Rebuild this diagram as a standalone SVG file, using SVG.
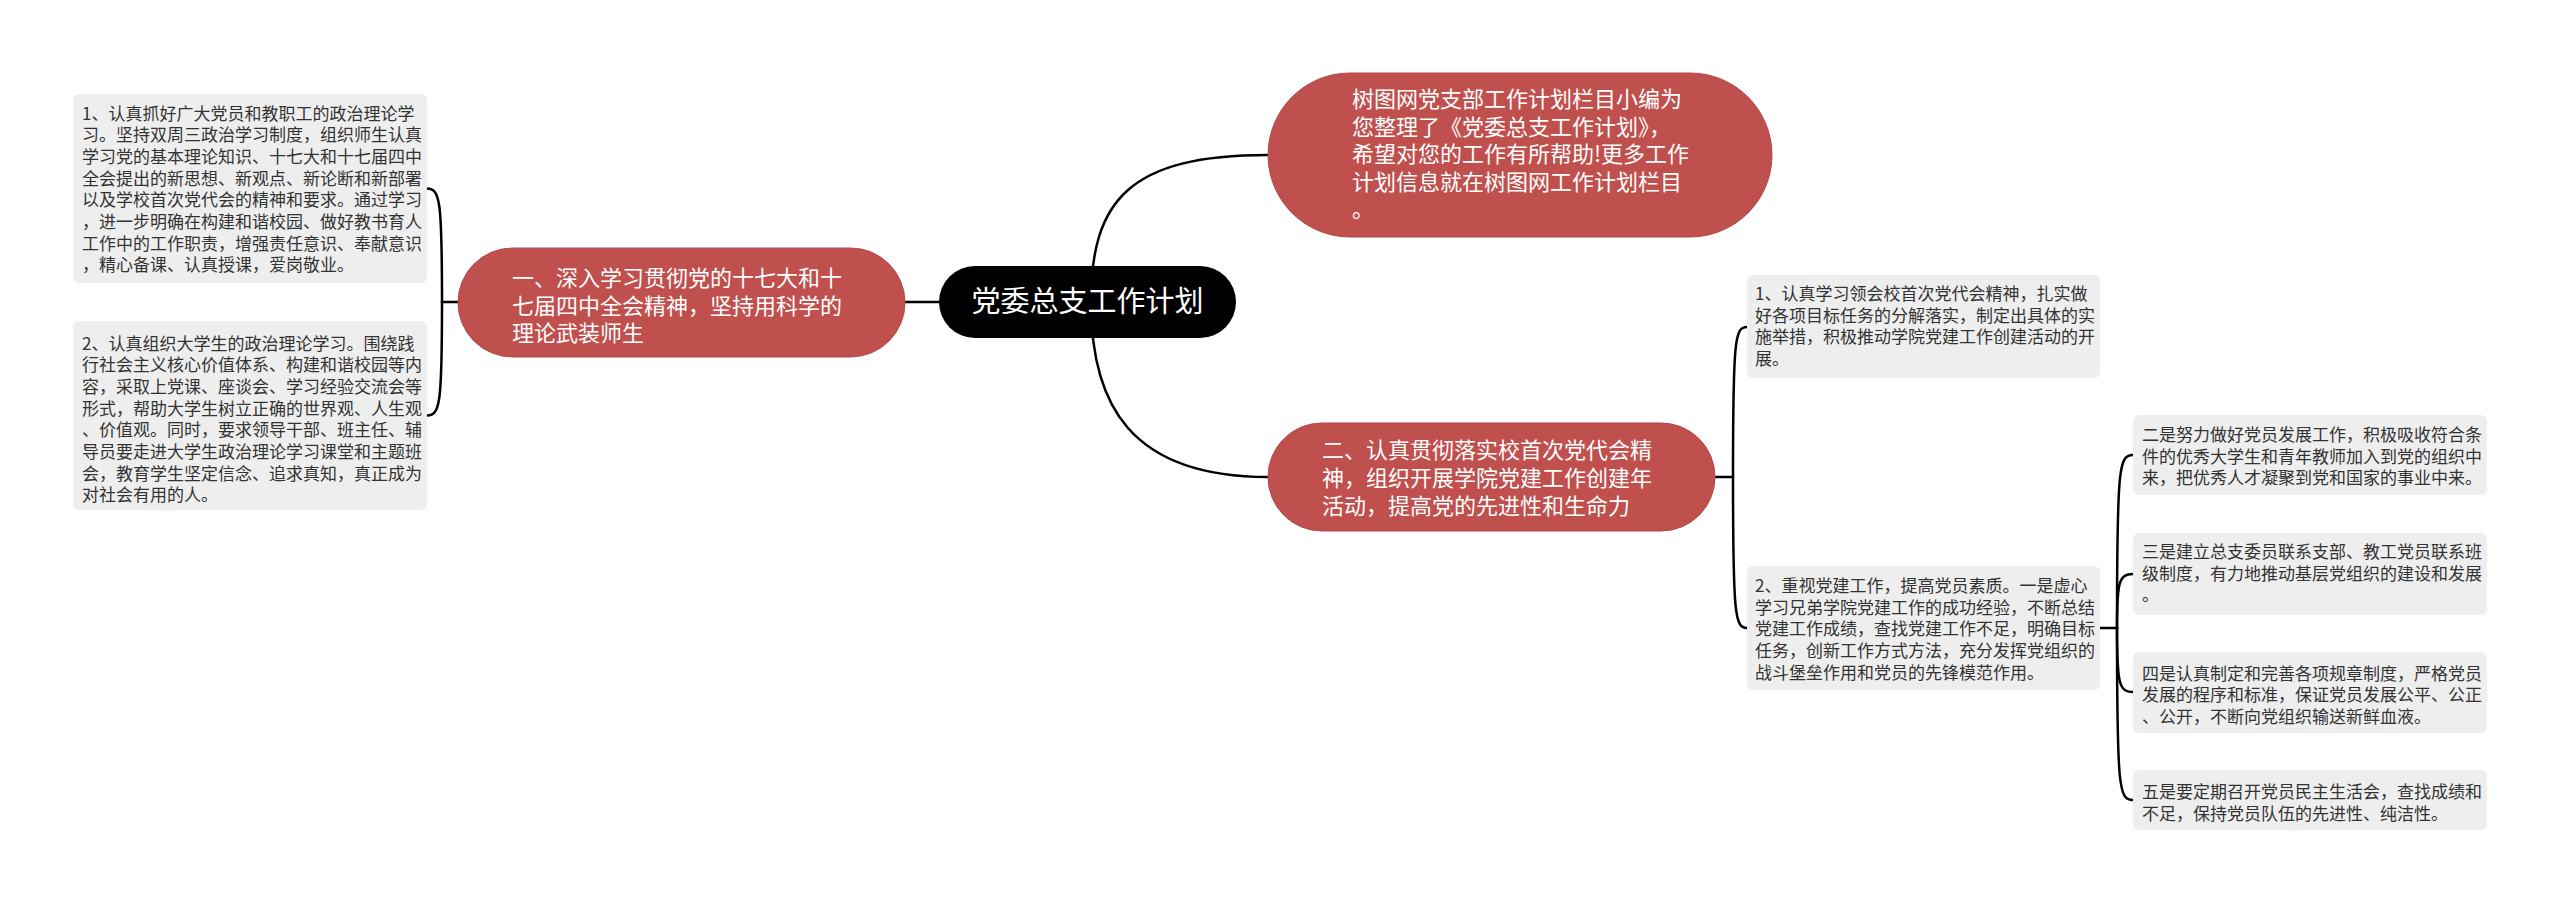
<svg xmlns="http://www.w3.org/2000/svg" width="2560" height="903" viewBox="0 0 2560 903">
<style>
.bg{fill:#ffffff}
.pill{fill:#C0504D;stroke:#B5474A;stroke-width:1}
.root{fill:#000000}
.box{fill:#EEEEEE}
.wt{fill:#ffffff;font-family:"Noto Sans CJK SC","Noto Sans",sans-serif;font-size:22px}
.rt{fill:#ffffff;font-family:"Noto Sans CJK SC","Noto Sans",sans-serif;font-size:29px}
.st{fill:#333333;font-family:"Noto Sans CJK SC","Noto Sans",sans-serif;font-size:17px}
.ln{fill:none;stroke:#000000;stroke-width:2.5;stroke-linecap:round}
</style>
<rect class="bg" x="0" y="0" width="2560" height="903"/>
<g id="connectors">
<path class="ln" d="M 905 302 L 939 302"/>
<path class="ln" d="M 458 302 L 442 302"/>
<path class="ln" d="M 442 302 C 442 200, 440 188.5, 427 188.5"/>
<path class="ln" d="M 442 302 C 442 404, 440 415.5, 427 415.5"/>
<path class="ln" d="M 1091 302 C 1091 200, 1130 155, 1268 155"/>
<path class="ln" d="M 1091 302 C 1091 404, 1130 477, 1268 477"/>
<path class="ln" d="M 1715 477 L 1733 477"/>
<path class="ln" d="M 1733 477 C 1733 338, 1735 327, 1747 327"/>
<path class="ln" d="M 1733 477 C 1733 616, 1735 628, 1747 628"/>
<path class="ln" d="M 2100 628 L 2117 628"/>
<path class="ln" d="M 2117 628 C 2117 466, 2119 455, 2133 455"/>
<path class="ln" d="M 2117 628 C 2117 582, 2119 574, 2133 574"/>
<path class="ln" d="M 2117 628 C 2117 684, 2119 692, 2133 692"/>
<path class="ln" d="M 2117 628 C 2117 790, 2119 800, 2133 800"/>
</g>
<g id="root">
<rect class="root" x="939" y="266" width="297" height="72" rx="36"/>
<text class="rt" x="1087.5" y="312" text-anchor="middle">党委总支工作计划</text>
</g>
<g id="branch1">
<rect class="pill" x="458" y="248" width="447" height="109" rx="54.5"/>
<text class="wt" x="512" y="286">一、深入学习贯彻党的十七大和十</text>
<text class="wt" x="512" y="313.5">七届四中全会精神，坚持用科学的</text>
<text class="wt" x="512" y="341">理论武装师生</text>
</g>
<g id="leaf1">
<rect class="box" x="73" y="94" width="354" height="189" rx="6"/>
<text class="st" x="82" y="119.5">1、认真抓好广大党员和教职工的政治理论学</text>
<text class="st" x="82" y="141.2">习。坚持双周三政治学习制度，组织师生认真</text>
<text class="st" x="82" y="162.9">学习党的基本理论知识、十七大和十七届四中</text>
<text class="st" x="82" y="184.6">全会提出的新思想、新观点、新论断和新部署</text>
<text class="st" x="82" y="206.3">以及学校首次党代会的精神和要求。通过学习</text>
<text class="st" x="82" y="228">，进一步明确在构建和谐校园、做好教书育人</text>
<text class="st" x="82" y="249.7">工作中的工作职责，增强责任意识、奉献意识</text>
<text class="st" x="82" y="271.4">，精心备课、认真授课，爱岗敬业。</text>
</g>
<g id="leaf2">
<rect class="box" x="73" y="321" width="354" height="189" rx="6"/>
<text class="st" x="82" y="349.5">2、认真组织大学生的政治理论学习。围绕践</text>
<text class="st" x="82" y="371.2">行社会主义核心价值体系、构建和谐校园等内</text>
<text class="st" x="82" y="392.9">容，采取上党课、座谈会、学习经验交流会等</text>
<text class="st" x="82" y="414.6">形式，帮助大学生树立正确的世界观、人生观</text>
<text class="st" x="82" y="436.3">、价值观。同时，要求领导干部、班主任、辅</text>
<text class="st" x="82" y="458">导员要走进大学生政治理论学习课堂和主题班</text>
<text class="st" x="82" y="479.7">会，教育学生坚定信念、追求真知，真正成为</text>
<text class="st" x="82" y="501.4">对社会有用的人。</text>
</g>
<g id="intro">
<rect class="pill" x="1268" y="73" width="504" height="164" rx="82"/>
<text class="wt" x="1352" y="107.3">树图网党支部工作计划栏目小编为</text>
<text class="wt" x="1352" y="134.8">您整理了《党委总支工作计划》，</text>
<text class="wt" x="1352" y="162.3">希望对您的工作有所帮助!更多工作</text>
<text class="wt" x="1352" y="189.8">计划信息就在树图网工作计划栏目</text>
<text class="wt" x="1352" y="217.3">。</text>
</g>
<g id="branch2">
<rect class="pill" x="1268" y="423" width="447" height="108" rx="54"/>
<text class="wt" x="1322" y="458">二、认真贯彻落实校首次党代会精</text>
<text class="wt" x="1322" y="486">神，组织开展学院党建工作创建年</text>
<text class="wt" x="1322" y="514">活动，提高党的先进性和生命力</text>
</g>
<g id="leaf3">
<rect class="box" x="1747" y="275" width="353" height="103" rx="6"/>
<text class="st" x="1755" y="300">1、认真学习领会校首次党代会精神，扎实做</text>
<text class="st" x="1755" y="321.7">好各项目标任务的分解落实，制定出具体的实</text>
<text class="st" x="1755" y="343.4">施举措，积极推动学院党建工作创建活动的开</text>
<text class="st" x="1755" y="365.1">展。</text>
</g>
<g id="leaf4">
<rect class="box" x="1747" y="566" width="353" height="124" rx="6"/>
<text class="st" x="1755" y="592">2、重视党建工作，提高党员素质。一是虚心</text>
<text class="st" x="1755" y="613.7">学习兄弟学院党建工作的成功经验，不断总结</text>
<text class="st" x="1755" y="635.4">党建工作成绩，查找党建工作不足，明确目标</text>
<text class="st" x="1755" y="657.1">任务，创新工作方式方法，充分发挥党组织的</text>
<text class="st" x="1755" y="678.8">战斗堡垒作用和党员的先锋模范作用。</text>
</g>
<g id="sub1">
<rect class="box" x="2133" y="415" width="354" height="80" rx="6"/>
<text class="st" x="2142" y="441">二是努力做好党员发展工作，积极吸收符合条</text>
<text class="st" x="2142" y="462.7">件的优秀大学生和青年教师加入到党的组织中</text>
<text class="st" x="2142" y="484.4">来，把优秀人才凝聚到党和国家的事业中来。</text>
</g>
<g id="sub2">
<rect class="box" x="2133" y="533" width="354" height="82" rx="6"/>
<text class="st" x="2142" y="558">三是建立总支委员联系支部、教工党员联系班</text>
<text class="st" x="2142" y="579.7">级制度，有力地推动基层党组织的建设和发展</text>
<text class="st" x="2142" y="601.4">。</text>
</g>
<g id="sub3">
<rect class="box" x="2133" y="652" width="354" height="81" rx="6"/>
<text class="st" x="2142" y="679.5">四是认真制定和完善各项规章制度，严格党员</text>
<text class="st" x="2142" y="701.2">发展的程序和标准，保证党员发展公平、公正</text>
<text class="st" x="2142" y="722.9">、公开，不断向党组织输送新鲜血液。</text>
</g>
<g id="sub4">
<rect class="box" x="2133" y="770" width="354" height="60" rx="6"/>
<text class="st" x="2142" y="798">五是要定期召开党员民主生活会，查找成绩和</text>
<text class="st" x="2142" y="819.7">不足，保持党员队伍的先进性、纯洁性。</text>
</g>
</svg>
